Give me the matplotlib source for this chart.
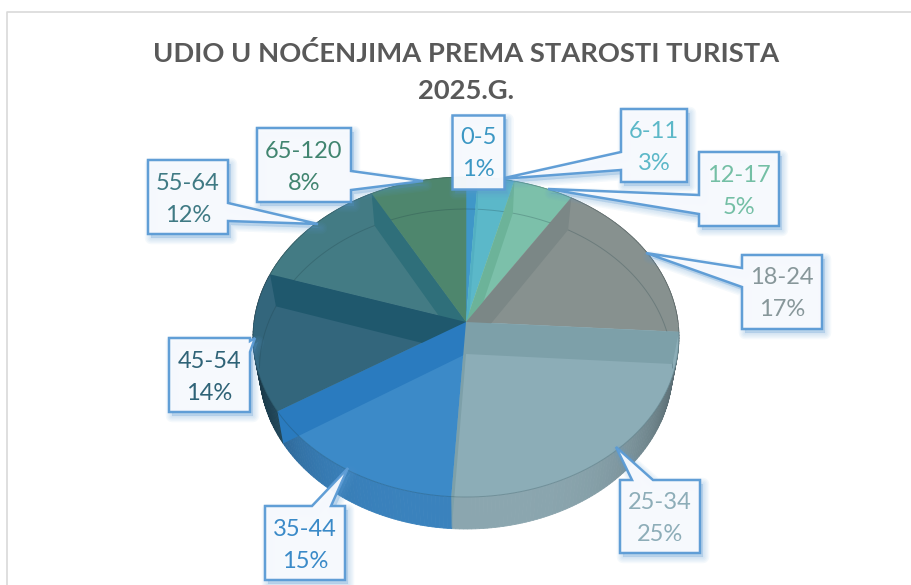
import matplotlib
matplotlib.use("Agg")
import matplotlib.pyplot as plt
import numpy as np
from matplotlib.patches import Polygon

# data
categories = ['0-5', '6-11', '12-17', '18-24', '25-34', '35-44', '45-54', '55-64', '65-120']
shares = [1, 3, 5, 17, 25, 15, 14, 12, 8]

# colours
face_colors = ['#3f97c8', '#5bb8c9', '#7cc0aa', '#87918f', '#8cadb7', '#3c8ac8', '#33667c', '#437b84', '#4e866d']
band_colors = ['#3f97c8', '#52afc2', '#6cb399', '#7b8786', '#7da0a9', '#2a7bbf', '#1f586d', '#2f6f7a', '#4e866d']
wall_colors = ['#3f97c8', '#5bb8c9', '#7cc0aa', '#87918f', '#8ba6af', '#3a82bd', '#2a5a72', '#437b84', '#4e866d']
text_colors = ['#3b97c4', '#5cb8c8', '#74bfa5', '#87979a', '#8dadb8', '#3a8ac8', '#2f6377', '#3f7a84', '#418570']
line_blue = '#5b9bd5'

# pie geometry, in image pixels
cx, cy = 466, 322
rx, ry, persp = 212, 158.6, 0.0937
depth, bottom_scale = 32, 0.97

# callouts: box, side the tail leaves from, tail points
callouts = {
    '6-11': ((621, 109, 687, 182), 'left', [(621, 170), (500, 179), (621, 152)]),
    '0-5': ((452, 115, 504, 189), None, []),
    '12-17': ((699, 152, 779, 226), 'left', [(699, 214), (548, 189), (699, 195)]),
    '18-24': ((742, 255, 822, 329), 'left', [(742, 287), (646, 253), (742, 268)]),
    '25-34': ((620, 480, 700, 553), 'top', [(632, 480), (616, 447), (653, 480)]),
    '35-44': ((265, 506, 345, 580), 'top', [(312, 506), (348, 468), (331, 506)]),
    '45-54': ((169, 338, 250, 412), 'right', [(250, 341), (255, 338), (250, 352)]),
    '55-64': ((148, 160, 228, 234), 'right', [(228, 203), (318, 224), (228, 221)]),
    '65-120': ((257, 128, 351, 202), 'right', [(351, 171), (423, 181), (351, 190)]),
}


def rim(theta, scale=1.0, shift=0):
    u = np.sin(np.radians(theta))
    v = np.cos(np.radians(theta))
    den = 1 + persp * v
    return cx + scale * rx * u / den, cy - ry * v / den + shift


fig = plt.figure(figsize=(9.11, 5.85), dpi=100)
ax = fig.add_axes([0, 0, 1, 1])
ax.set_xlim(0, 911)
ax.set_ylim(585, 0)
ax.axis('off')

# chart frame
ax.plot([7, 7, 911], [585, 12, 12], color='#d9d9d9', lw=1.2, zorder=1)

ax.text(466, 54, 'UDIO U NOĆENJIMA PREMA STAROSTI TURISTA', family='Lato', weight='bold',
        fontsize=19.7, color='#595959', ha='center', va='center')
ax.text(466, 91, '2025.G.', family='Lato', weight='bold',
        fontsize=19.7, color='#595959', ha='center', va='center')

edges = np.cumsum([0] + shares) * 3.6

# outer wall, drawn in small steps so it can be shaded
for i in range(len(shares)):
    steps = np.arange(edges[i], edges[i + 1] + 0.01, 1.0)
    for a, b in zip(steps[:-1], steps[1:]):
        x0, y0 = rim(a)
        x1, y1 = rim(b)
        x2, y2 = rim(b, bottom_scale, depth)
        x3, y3 = rim(a, bottom_scale, depth)
        shade = 1 - 0.4 * abs(np.sin(np.radians(a))) ** 4
        rgb = np.array(matplotlib.colors.to_rgb(wall_colors[i])) * shade
        ax.fill([x0, x1, x2, x3], [y0, y1, y2, y3], color=rgb, lw=0.6, zorder=2)

# top faces
for i in range(len(shares)):
    theta = np.linspace(edges[i], edges[i + 1], 60)
    x, y = rim(theta)
    ax.fill(np.r_[cx, x], np.r_[cy, y], color=face_colors[i], lw=0.4, zorder=3)

# bottom rim seen through the faces
theta = np.linspace(-95, 95, 200)
x, y = rim(theta, bottom_scale, depth)
ax.plot(x, y, color='#1c3c44', alpha=0.25, lw=0.7, zorder=4)

# inner walls seen through the faces, back ones first
order = [(1, 1), (2, 2), (3, 3), (4, 4), (8, 7), (7, 6), (6, 5), (5, 4)]
for k, idx in order:
    px, py = rim(edges[k])
    qx, qy = rim(edges[k], bottom_scale, depth)
    ax.fill([cx, px, qx, cx], [cy, py, qy, cy + depth], color=band_colors[idx], lw=0, zorder=5)

# rim lines
theta = np.linspace(92, 268, 200)
x, y = rim(theta)
ax.plot(x, y, color='#1c3c44', alpha=0.25, lw=0.7, zorder=6)
theta = np.linspace(-90, 90, 200)
x, y = rim(theta)
ax.plot(x, y, color='#2c3c40', alpha=0.35, lw=0.6, zorder=6)

# callouts
for name, (box, side, tail) in callouts.items():
    x0, y0, x1, y1 = box
    pts = [(x0, y0)]
    if side == 'top':
        pts += tail
    pts.append((x1, y0))
    if side == 'right':
        pts += tail
    pts += [(x1, y1), (x0, y1)]
    if side == 'left':
        pts += tail
    pts = np.array(pts, dtype=float)
    for lw in [9, 7, 5, 3, 1]:
        ax.add_patch(Polygon(pts + [3, 4], closed=True, facecolor=line_blue, edgecolor=line_blue,
                             lw=lw, alpha=0.06, joinstyle='round', zorder=7))
    ax.add_patch(Polygon(pts, closed=True, facecolor='#f8fafe', edgecolor=line_blue, lw=1.8,
                         alpha=0.96, joinstyle='miter', zorder=8))
    i = categories.index(name)
    mid_x = (x0 + x1) / 2
    mid_y = (y0 + y1) / 2
    ax.text(mid_x, mid_y - 14, name, family='Lato', fontsize=17, color=text_colors[i],
            ha='center', va='center', zorder=9)
    ax.text(mid_x, mid_y + 18, f'{shares[i]}%', family='Lato', fontsize=17, color=text_colors[i],
            ha='center', va='center', zorder=9)

fig.savefig('out.png', dpi=100)
